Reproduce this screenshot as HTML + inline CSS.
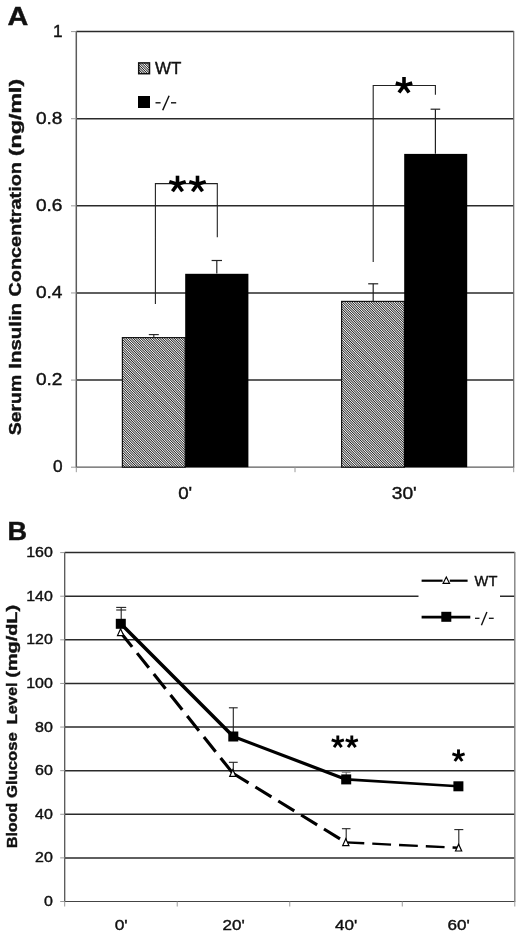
<!DOCTYPE html>
<html><head><meta charset="utf-8"><title>Figure</title>
<style>
html,body{margin:0;padding:0;background:#fff;}
body{width:520px;height:935px;overflow:hidden;font-family:"Liberation Sans",sans-serif;}
svg{display:block;filter:grayscale(1);}
svg text{font-family:"Liberation Sans",sans-serif;fill:#111;stroke:#111;stroke-width:0.4px;}
</style></head><body>
<svg width="520" height="935" viewBox="0 0 520 935">
<defs>
<pattern id="hatch" width="1.7" height="1.7" patternUnits="userSpaceOnUse" patternTransform="rotate(45)">
<rect width="1.7" height="1.7" fill="#fff"/>
<rect width="1.7" height="0.85" fill="#222"/>
</pattern>
</defs>
<rect width="520" height="935" fill="#fff"/>
<line x1="76.3" y1="31.60" x2="513.7" y2="31.60" stroke="#2a2a2a" stroke-width="1.5"/>
<line x1="76.3" y1="118.72" x2="513.7" y2="118.72" stroke="#2a2a2a" stroke-width="1.5"/>
<line x1="76.3" y1="205.84" x2="513.7" y2="205.84" stroke="#2a2a2a" stroke-width="1.5"/>
<line x1="76.3" y1="292.96" x2="513.7" y2="292.96" stroke="#2a2a2a" stroke-width="1.5"/>
<line x1="76.3" y1="380.08" x2="513.7" y2="380.08" stroke="#2a2a2a" stroke-width="1.5"/>
<line x1="76.3" y1="467.2" x2="513.7" y2="467.2" stroke="#5c5c5c" stroke-width="1.2"/>
<line x1="76.3" y1="31.0" x2="76.3" y2="467.8" stroke="#5c5c5c" stroke-width="1.5"/>
<line x1="513.7" y1="31.0" x2="513.7" y2="467.8" stroke="#666" stroke-width="1.2"/>
<line x1="513.7" y1="467.2" x2="513.7" y2="472.2" stroke="#9a9a9a" stroke-width="1"/>
<line x1="71.0" y1="31.60" x2="76.3" y2="31.60" stroke="#9a9a9a" stroke-width="1"/>
<line x1="71.0" y1="118.72" x2="76.3" y2="118.72" stroke="#9a9a9a" stroke-width="1"/>
<line x1="71.0" y1="205.84" x2="76.3" y2="205.84" stroke="#9a9a9a" stroke-width="1"/>
<line x1="71.0" y1="292.96" x2="76.3" y2="292.96" stroke="#9a9a9a" stroke-width="1"/>
<line x1="71.0" y1="380.08" x2="76.3" y2="380.08" stroke="#9a9a9a" stroke-width="1"/>
<line x1="71.0" y1="467.20" x2="76.3" y2="467.20" stroke="#9a9a9a" stroke-width="1"/>
<line x1="76.30" y1="467.2" x2="76.30" y2="472.2" stroke="#9a9a9a" stroke-width="1"/>
<line x1="295.00" y1="467.2" x2="295.00" y2="472.2" stroke="#9a9a9a" stroke-width="1"/>
<text x="62.5" y="36.80" font-size="16.6" text-anchor="end" font-weight="normal" textLength="9.6" lengthAdjust="spacingAndGlyphs" >1</text>
<text x="62.5" y="123.92" font-size="16.6" text-anchor="end" font-weight="normal" textLength="26.6" lengthAdjust="spacingAndGlyphs" >0.8</text>
<text x="62.5" y="211.04" font-size="16.6" text-anchor="end" font-weight="normal" textLength="26.6" lengthAdjust="spacingAndGlyphs" >0.6</text>
<text x="62.5" y="298.16" font-size="16.6" text-anchor="end" font-weight="normal" textLength="26.6" lengthAdjust="spacingAndGlyphs" >0.4</text>
<text x="62.5" y="385.28" font-size="16.6" text-anchor="end" font-weight="normal" textLength="26.6" lengthAdjust="spacingAndGlyphs" >0.2</text>
<text x="62.5" y="472.40" font-size="16.6" text-anchor="end" font-weight="normal" textLength="9.6" lengthAdjust="spacingAndGlyphs" >0</text>
<rect x="122.4" y="337.6" width="62.8" height="129.6" fill="url(#hatch)" stroke="#151515" stroke-width="1.2"/>
<rect x="185.2" y="273.8" width="63.2" height="193.4" fill="#000"/>
<rect x="341.6" y="301.4" width="62.8" height="165.8" fill="url(#hatch)" stroke="#151515" stroke-width="1.2"/>
<rect x="404.2" y="153.9" width="63.0" height="313.3" fill="#000"/>
<line x1="153.8" y1="337.3" x2="153.8" y2="334.6" stroke="#222" stroke-width="1.1"/><line x1="148.8" y1="334.6" x2="158.8" y2="334.6" stroke="#222" stroke-width="1.1"/>
<line x1="216.8" y1="273.6" x2="216.8" y2="260.5" stroke="#222" stroke-width="1.2"/><line x1="211.60000000000002" y1="260.5" x2="222.0" y2="260.5" stroke="#222" stroke-width="1.2"/>
<line x1="373.2" y1="301.2" x2="373.2" y2="283.8" stroke="#222" stroke-width="1.2"/><line x1="368.2" y1="283.8" x2="378.2" y2="283.8" stroke="#222" stroke-width="1.2"/>
<line x1="435.4" y1="153.7" x2="435.4" y2="109.2" stroke="#222" stroke-width="1.2"/><line x1="430.59999999999997" y1="109.2" x2="440.2" y2="109.2" stroke="#222" stroke-width="1.2"/>
<polyline points="155.4,304 155.4,183.6 217.3,183.6 217.3,237.3" fill="none" stroke="#222" stroke-width="1.1"/>
<polyline points="373.2,262 373.2,85.5 435.4,85.5 435.4,94.8" fill="none" stroke="#222" stroke-width="1.1"/>
<line x1="177.50" y1="184.30" x2="177.50" y2="175.70" stroke="#000" stroke-width="3.6" stroke-linecap="butt"/>
<line x1="177.50" y1="184.30" x2="185.68" y2="181.64" stroke="#000" stroke-width="3.6" stroke-linecap="butt"/>
<line x1="177.50" y1="184.30" x2="182.55" y2="191.26" stroke="#000" stroke-width="3.6" stroke-linecap="butt"/>
<line x1="177.50" y1="184.30" x2="172.45" y2="191.26" stroke="#000" stroke-width="3.6" stroke-linecap="butt"/>
<line x1="177.50" y1="184.30" x2="169.32" y2="181.64" stroke="#000" stroke-width="3.6" stroke-linecap="butt"/>
<line x1="197.50" y1="184.30" x2="197.50" y2="175.70" stroke="#000" stroke-width="3.6" stroke-linecap="butt"/>
<line x1="197.50" y1="184.30" x2="205.68" y2="181.64" stroke="#000" stroke-width="3.6" stroke-linecap="butt"/>
<line x1="197.50" y1="184.30" x2="202.55" y2="191.26" stroke="#000" stroke-width="3.6" stroke-linecap="butt"/>
<line x1="197.50" y1="184.30" x2="192.45" y2="191.26" stroke="#000" stroke-width="3.6" stroke-linecap="butt"/>
<line x1="197.50" y1="184.30" x2="189.32" y2="181.64" stroke="#000" stroke-width="3.6" stroke-linecap="butt"/>
<line x1="404.00" y1="85.60" x2="404.00" y2="77.00" stroke="#000" stroke-width="3.6" stroke-linecap="butt"/>
<line x1="404.00" y1="85.60" x2="412.18" y2="82.94" stroke="#000" stroke-width="3.6" stroke-linecap="butt"/>
<line x1="404.00" y1="85.60" x2="409.05" y2="92.56" stroke="#000" stroke-width="3.6" stroke-linecap="butt"/>
<line x1="404.00" y1="85.60" x2="398.95" y2="92.56" stroke="#000" stroke-width="3.6" stroke-linecap="butt"/>
<line x1="404.00" y1="85.60" x2="395.82" y2="82.94" stroke="#000" stroke-width="3.6" stroke-linecap="butt"/>
<rect x="138.7" y="62.9" width="10.8" height="10.8" fill="url(#hatch)" stroke="#111" stroke-width="1.5"/>
<rect x="138" y="96" width="12" height="12" fill="#000"/>
<text x="155.0" y="74.0" font-size="16.6" text-anchor="start" font-weight="normal" textLength="26.4" lengthAdjust="spacingAndGlyphs" >WT</text>
<line x1="155.5" y1="102.8" x2="160.6" y2="102.8" stroke="#111" stroke-width="1.4"/><line x1="162.7" y1="110.3" x2="169.1" y2="95.8" stroke="#111" stroke-width="1.5"/><line x1="171.0" y1="102.8" x2="176.2" y2="102.8" stroke="#111" stroke-width="1.4"/>
<text x="185.2" y="499.1" font-size="16.6" text-anchor="middle" font-weight="normal" textLength="14.0" lengthAdjust="spacingAndGlyphs" >0'</text>
<text x="404.3" y="499.1" font-size="16.6" text-anchor="middle" font-weight="normal" textLength="25.0" lengthAdjust="spacingAndGlyphs" >30'</text>
<g transform="translate(21.0,434.6) rotate(-90)" font-size="16.6" font-weight="bold"><text x="-0.6" y="0" textLength="60.4" lengthAdjust="spacingAndGlyphs">Serum</text><text x="65.9" y="0" textLength="65.8" lengthAdjust="spacingAndGlyphs">Insulin</text><text x="138.1" y="0" textLength="134.4" lengthAdjust="spacingAndGlyphs">Concentration</text><text x="278.4" y="0" textLength="77.5" lengthAdjust="spacingAndGlyphs">(ng/ml)</text></g>
<text x="7.4" y="25.4" font-size="26" text-anchor="start" font-weight="bold" textLength="20.8" lengthAdjust="spacingAndGlyphs" >A</text>
<text x="7.6" y="540.2" font-size="26" text-anchor="start" font-weight="bold" textLength="19.6" lengthAdjust="spacingAndGlyphs" >B</text>
<line x1="64.7" y1="857.89" x2="514.8" y2="857.89" stroke="#2a2a2a" stroke-width="1.5"/>
<line x1="64.7" y1="814.27" x2="514.8" y2="814.27" stroke="#2a2a2a" stroke-width="1.5"/>
<line x1="64.7" y1="770.66" x2="514.8" y2="770.66" stroke="#2a2a2a" stroke-width="1.5"/>
<line x1="64.7" y1="727.05" x2="514.8" y2="727.05" stroke="#2a2a2a" stroke-width="1.5"/>
<line x1="64.7" y1="683.44" x2="514.8" y2="683.44" stroke="#2a2a2a" stroke-width="1.5"/>
<line x1="64.7" y1="639.83" x2="514.8" y2="639.83" stroke="#2a2a2a" stroke-width="1.5"/>
<line x1="64.7" y1="596.21" x2="514.8" y2="596.21" stroke="#2a2a2a" stroke-width="1.5"/>
<line x1="64.7" y1="552.60" x2="514.8" y2="552.60" stroke="#2a2a2a" stroke-width="1.5"/>
<line x1="64.7" y1="901.5" x2="514.8" y2="901.5" stroke="#444" stroke-width="1.2"/>
<line x1="64.7" y1="552.0" x2="64.7" y2="902.1" stroke="#555" stroke-width="1.3"/>
<line x1="514.8" y1="552.0" x2="514.8" y2="902.1" stroke="#808080" stroke-width="1.4"/>
<line x1="514.8" y1="901.5" x2="514.8" y2="906.5" stroke="#9a9a9a" stroke-width="1"/>
<line x1="60.2" y1="901.50" x2="64.7" y2="901.50" stroke="#9a9a9a" stroke-width="1"/>
<text x="52.8" y="906.00" font-size="14.6" text-anchor="end" font-weight="normal" textLength="8.9" lengthAdjust="spacingAndGlyphs" >0</text>
<line x1="60.2" y1="857.89" x2="64.7" y2="857.89" stroke="#9a9a9a" stroke-width="1"/>
<text x="52.8" y="862.39" font-size="14.6" text-anchor="end" font-weight="normal" textLength="17.8" lengthAdjust="spacingAndGlyphs" >20</text>
<line x1="60.2" y1="814.27" x2="64.7" y2="814.27" stroke="#9a9a9a" stroke-width="1"/>
<text x="52.8" y="818.77" font-size="14.6" text-anchor="end" font-weight="normal" textLength="17.8" lengthAdjust="spacingAndGlyphs" >40</text>
<line x1="60.2" y1="770.66" x2="64.7" y2="770.66" stroke="#9a9a9a" stroke-width="1"/>
<text x="52.8" y="775.16" font-size="14.6" text-anchor="end" font-weight="normal" textLength="17.8" lengthAdjust="spacingAndGlyphs" >60</text>
<line x1="60.2" y1="727.05" x2="64.7" y2="727.05" stroke="#9a9a9a" stroke-width="1"/>
<text x="52.8" y="731.55" font-size="14.6" text-anchor="end" font-weight="normal" textLength="17.8" lengthAdjust="spacingAndGlyphs" >80</text>
<line x1="60.2" y1="683.44" x2="64.7" y2="683.44" stroke="#9a9a9a" stroke-width="1"/>
<text x="52.8" y="687.94" font-size="14.6" text-anchor="end" font-weight="normal" textLength="26.6" lengthAdjust="spacingAndGlyphs" >100</text>
<line x1="60.2" y1="639.83" x2="64.7" y2="639.83" stroke="#9a9a9a" stroke-width="1"/>
<text x="52.8" y="644.33" font-size="14.6" text-anchor="end" font-weight="normal" textLength="26.6" lengthAdjust="spacingAndGlyphs" >120</text>
<line x1="60.2" y1="596.21" x2="64.7" y2="596.21" stroke="#9a9a9a" stroke-width="1"/>
<text x="52.8" y="600.71" font-size="14.6" text-anchor="end" font-weight="normal" textLength="26.6" lengthAdjust="spacingAndGlyphs" >140</text>
<line x1="60.2" y1="552.60" x2="64.7" y2="552.60" stroke="#9a9a9a" stroke-width="1"/>
<text x="52.8" y="557.10" font-size="14.6" text-anchor="end" font-weight="normal" textLength="26.6" lengthAdjust="spacingAndGlyphs" >160</text>
<line x1="64.70" y1="901.5" x2="64.70" y2="906.5" stroke="#9a9a9a" stroke-width="1"/>
<line x1="177.22" y1="901.5" x2="177.22" y2="906.5" stroke="#9a9a9a" stroke-width="1"/>
<line x1="289.75" y1="901.5" x2="289.75" y2="906.5" stroke="#9a9a9a" stroke-width="1"/>
<line x1="402.27" y1="901.5" x2="402.27" y2="906.5" stroke="#9a9a9a" stroke-width="1"/>
<text x="121.16" y="930.2" font-size="15" text-anchor="middle" font-weight="normal" textLength="13.0" lengthAdjust="spacingAndGlyphs" >0'</text>
<text x="233.69" y="930.2" font-size="15" text-anchor="middle" font-weight="normal" textLength="22.2" lengthAdjust="spacingAndGlyphs" >20'</text>
<text x="346.21" y="930.2" font-size="15" text-anchor="middle" font-weight="normal" textLength="22.2" lengthAdjust="spacingAndGlyphs" >40'</text>
<text x="458.74" y="930.2" font-size="15" text-anchor="middle" font-weight="normal" textLength="22.2" lengthAdjust="spacingAndGlyphs" >60'</text>
<rect x="418.5" y="566" width="81.5" height="68" fill="#fff"/>
<line x1="121.2" y1="623.8" x2="121.2" y2="607.4" stroke="#222" stroke-width="1.1"/><line x1="116.2" y1="607.4" x2="126.2" y2="607.4" stroke="#222" stroke-width="1.1"/>
<line x1="116.2" y1="610" x2="126.2" y2="610" stroke="#222" stroke-width="1.1"/>
<line x1="233.3" y1="736.5" x2="233.3" y2="707.8" stroke="#222" stroke-width="1.1"/><line x1="228.9" y1="707.8" x2="237.70000000000002" y2="707.8" stroke="#222" stroke-width="1.1"/>
<line x1="233.3" y1="773" x2="233.3" y2="762.3" stroke="#222" stroke-width="1.1"/><line x1="228.9" y1="762.3" x2="237.70000000000002" y2="762.3" stroke="#222" stroke-width="1.1"/>
<line x1="346.2" y1="779" x2="346.2" y2="772.2" stroke="#666" stroke-width="1.0"/><line x1="341.8" y1="772.2" x2="350.59999999999997" y2="772.2" stroke="#666" stroke-width="1.0"/>
<line x1="346.2" y1="842" x2="346.2" y2="828.7" stroke="#222" stroke-width="1.1"/><line x1="341.9" y1="828.7" x2="350.5" y2="828.7" stroke="#222" stroke-width="1.1"/>
<line x1="458.8" y1="848" x2="458.8" y2="829.6" stroke="#222" stroke-width="1.1"/><line x1="454.3" y1="829.6" x2="463.3" y2="829.6" stroke="#222" stroke-width="1.1"/>
<line x1="120.6" y1="632.4" x2="232.8" y2="773.2" stroke="#000" stroke-width="3.16" stroke-dasharray="18.8 8.0" stroke-dashoffset="0.3"/>
<line x1="232.8" y1="773.2" x2="345.8" y2="842.4" stroke="#000" stroke-width="3.09" stroke-dasharray="18.8 8.0" stroke-dashoffset="0.3"/>
<line x1="345.8" y1="842.4" x2="458.6" y2="847.8" stroke="#000" stroke-width="2.36" stroke-dasharray="18.8 8.0" stroke-dashoffset="0.3"/>
<line x1="120.8" y1="623.8" x2="233.3" y2="736.5" stroke="#000" stroke-width="3.54" stroke-linecap="round"/>
<line x1="233.3" y1="736.5" x2="346.2" y2="779.4" stroke="#000" stroke-width="3.22" stroke-linecap="round"/>
<line x1="346.2" y1="779.4" x2="458.4" y2="786.3" stroke="#000" stroke-width="2.65" stroke-linecap="round"/>
<rect x="115.80" y="618.80" width="10" height="10" fill="#000"/>
<rect x="228.30" y="731.50" width="10" height="10" fill="#000"/>
<rect x="341.20" y="774.40" width="10" height="10" fill="#000"/>
<rect x="453.40" y="781.30" width="10" height="10" fill="#000"/>
<polygon points="120.60,628.80 123.70,635.60 117.50,635.60" fill="#fff" stroke="#000" stroke-width="1.2" stroke-linejoin="miter"/>
<polygon points="232.80,769.60 235.90,776.40 229.70,776.40" fill="#fff" stroke="#000" stroke-width="1.2" stroke-linejoin="miter"/>
<polygon points="345.80,838.80 348.90,845.60 342.70,845.60" fill="#fff" stroke="#000" stroke-width="1.2" stroke-linejoin="miter"/>
<polygon points="458.60,844.20 461.70,851.00 455.50,851.00" fill="#fff" stroke="#000" stroke-width="1.2" stroke-linejoin="miter"/>
<line x1="337.80" y1="741.90" x2="337.80" y2="735.50" stroke="#000" stroke-width="2.9" stroke-linecap="butt"/>
<line x1="337.80" y1="741.90" x2="343.89" y2="739.92" stroke="#000" stroke-width="2.9" stroke-linecap="butt"/>
<line x1="337.80" y1="741.90" x2="341.56" y2="747.08" stroke="#000" stroke-width="2.9" stroke-linecap="butt"/>
<line x1="337.80" y1="741.90" x2="334.04" y2="747.08" stroke="#000" stroke-width="2.9" stroke-linecap="butt"/>
<line x1="337.80" y1="741.90" x2="331.71" y2="739.92" stroke="#000" stroke-width="2.9" stroke-linecap="butt"/>
<line x1="351.80" y1="741.90" x2="351.80" y2="735.50" stroke="#000" stroke-width="2.9" stroke-linecap="butt"/>
<line x1="351.80" y1="741.90" x2="357.89" y2="739.92" stroke="#000" stroke-width="2.9" stroke-linecap="butt"/>
<line x1="351.80" y1="741.90" x2="355.56" y2="747.08" stroke="#000" stroke-width="2.9" stroke-linecap="butt"/>
<line x1="351.80" y1="741.90" x2="348.04" y2="747.08" stroke="#000" stroke-width="2.9" stroke-linecap="butt"/>
<line x1="351.80" y1="741.90" x2="345.71" y2="739.92" stroke="#000" stroke-width="2.9" stroke-linecap="butt"/>
<line x1="458.50" y1="755.80" x2="458.50" y2="749.40" stroke="#000" stroke-width="2.9" stroke-linecap="butt"/>
<line x1="458.50" y1="755.80" x2="464.59" y2="753.82" stroke="#000" stroke-width="2.9" stroke-linecap="butt"/>
<line x1="458.50" y1="755.80" x2="462.26" y2="760.98" stroke="#000" stroke-width="2.9" stroke-linecap="butt"/>
<line x1="458.50" y1="755.80" x2="454.74" y2="760.98" stroke="#000" stroke-width="2.9" stroke-linecap="butt"/>
<line x1="458.50" y1="755.80" x2="452.41" y2="753.82" stroke="#000" stroke-width="2.9" stroke-linecap="butt"/>
<line x1="421.6" y1="580.7" x2="442.6" y2="580.7" stroke="#000" stroke-width="2.2"/>
<line x1="449.8" y1="580.7" x2="467.6" y2="580.7" stroke="#000" stroke-width="2.2"/>
<polygon points="446.30,577.00 449.50,583.30 443.10,583.30" fill="#fff" stroke="#000" stroke-width="1.2" stroke-linejoin="miter"/>
<line x1="421.6" y1="617.1" x2="470.3" y2="617.1" stroke="#000" stroke-width="2.8"/>
<rect x="441.30" y="611.80" width="10" height="10" fill="#000"/>
<text x="474.6" y="585.6" font-size="14.6" text-anchor="start" font-weight="normal" textLength="22.8" lengthAdjust="spacingAndGlyphs" >WT</text>
<line x1="475.0" y1="618.3" x2="479.5" y2="618.3" stroke="#111" stroke-width="1.3"/><line x1="481.4" y1="625.2" x2="486.9" y2="611.9" stroke="#111" stroke-width="1.4000000000000001"/><line x1="488.9" y1="618.3" x2="493.7" y2="618.3" stroke="#111" stroke-width="1.3"/>
<g transform="translate(16.8,847.4) rotate(-90)" font-size="14.6" font-weight="bold"><text x="-0.6" y="0" textLength="45.1" lengthAdjust="spacingAndGlyphs">Blood</text><text x="49.5" y="0" textLength="65.6" lengthAdjust="spacingAndGlyphs">Glucose</text><text x="123.2" y="0" textLength="41.8" lengthAdjust="spacingAndGlyphs">Level</text><text x="169.7" y="0" textLength="72.8" lengthAdjust="spacingAndGlyphs">(mg/dL)</text></g>
</svg>
</body></html>
